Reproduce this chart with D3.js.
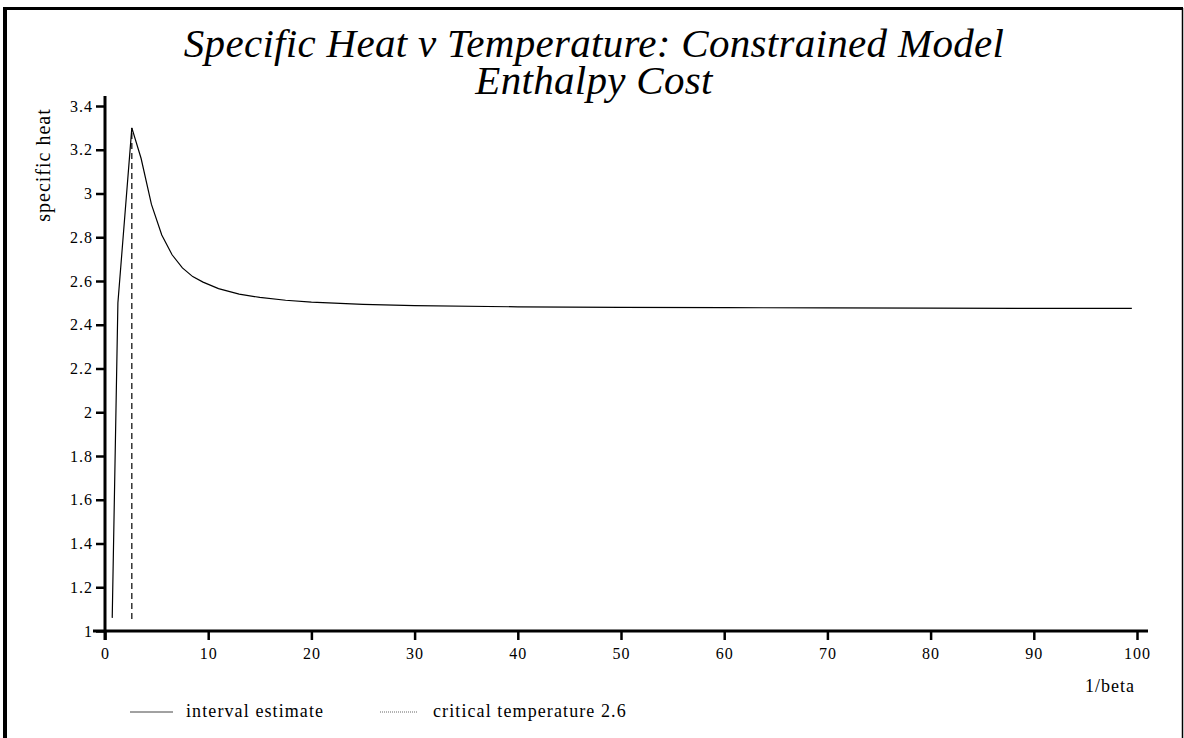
<!DOCTYPE html>
<html>
<head>
<meta charset="utf-8">
<script src="https://cdn.jsdelivr.net/npm/d3@7"></script>
<style>
  body { margin: 0; background: #fff; }
</style>
</head>
<body>
<div id="chart"></div>
<script>
// 1/beta values and the specific heat estimate
const invBeta = [0.7, 1.25, 2.6, 3.5, 4.5, 5.5, 6.5, 7.5, 8.5, 9.5, 11, 13, 15, 17.5, 20, 25, 30, 40, 50, 60, 70, 80, 90, 99.5];
const specHeat = [1.06, 2.5, 3.30, 3.16, 2.95, 2.81, 2.72, 2.66, 2.62, 2.595, 2.565, 2.54, 2.525, 2.512, 2.503, 2.493, 2.487, 2.482, 2.479, 2.478, 2.477, 2.476, 2.475, 2.475];

// critical temperature marker
const critTemp = 2.6;
const critRange = [1.055, 3.30];

const xTicks = [0, 10, 20, 30, 40, 50, 60, 70, 80, 90, 100];
const yTicks = [1, 1.2, 1.4, 1.6, 1.8, 2, 2.2, 2.4, 2.6, 2.8, 3, 3.2, 3.4];

const titleLines = ["Specific Heat v Temperature: Constrained Model", "Enthalpy Cost"];
const legendItems = ["interval estimate", "critical temperature 2.6"];

const width = 1184, height = 738;
const serif = "Liberation Serif";

const svg = d3.select("#chart").append("svg")
    .attr("width", width)
    .attr("height", height)
    .attr("font-family", serif);

// outer frame (open at the bottom, thick on the left/top)
svg.append("line").attr("x1", 5).attr("x2", 5).attr("y1", 7).attr("y2", height)
    .attr("stroke", "#000").attr("stroke-width", 4);
svg.append("line").attr("x1", 3).attr("x2", 1183).attr("y1", 8.5).attr("y2", 8.5)
    .attr("stroke", "#000").attr("stroke-width", 3);
svg.append("line").attr("x1", 1182.5).attr("x2", 1182.5).attr("y1", 8).attr("y2", height)
    .attr("stroke", "#000").attr("stroke-width", 1.5);

// scales
let x = d3.scaleLinear().domain([0, 100]).range([105, 1137]);
let y = d3.scaleLinear().domain([1, 3.4]).range([631, 106]);

// title
svg.selectAll("text.title").data(titleLines).enter()
    .append("text")
    .attr("class", "title")
    .attr("x", 594)
    .attr("y", (d, i) => 57 + i * 37)
    .attr("text-anchor", "middle")
    .attr("font-family", serif)
    .attr("font-style", "italic")
    .attr("font-size", 41)
    .attr("letter-spacing", 0.3)
    .text(d => d);

// axes
let yAxis = svg.append("g")
    .attr("transform", "translate(" + x(0) + ",0)")
    .call(d3.axisLeft(y).tickValues(yTicks).tickSize(9).tickSizeOuter(0).tickPadding(3)
        .tickFormat(d => String(+d.toFixed(1))));
let xAxis = svg.append("g")
    .attr("transform", "translate(0," + y(1) + ")")
    .call(d3.axisBottom(x).tickValues(xTicks).tickSize(9).tickSizeOuter(0).tickPadding(8)
        .tickFormat(d3.format("d")));

[yAxis, xAxis].forEach(a => {
    a.attr("font-family", serif).attr("font-size", 16);
    a.select(".domain").remove();
    a.selectAll(".tick line").attr("stroke", "#000").attr("stroke-width", 2.5);
    a.selectAll(".tick text").attr("fill", "#000").attr("letter-spacing", 1);
});

// axis lines, a bit past the ends like the original
svg.append("line")
    .attr("x1", x(0)).attr("x2", x(0))
    .attr("y1", y(3.4) - 10).attr("y2", y(1) + 9)
    .attr("stroke", "#000").attr("stroke-width", 3);
svg.append("line")
    .attr("x1", x(0) - 12).attr("x2", x(100) + 11)
    .attr("y1", y(1)).attr("y2", y(1))
    .attr("stroke", "#000").attr("stroke-width", 3);

// axis titles
svg.append("text")
    .attr("transform", "translate(50," + 165 + ") rotate(-90)")
    .attr("text-anchor", "middle")
    .attr("font-size", 20)
    .attr("letter-spacing", 1)
    .text("specific heat");
svg.append("text")
    .attr("x", 1135)
    .attr("y", 692)
    .attr("text-anchor", "end")
    .attr("font-size", 18)
    .attr("letter-spacing", 1)
    .text("1/beta");

// critical temperature (dashed)
svg.append("line")
    .attr("x1", x(critTemp)).attr("x2", x(critTemp))
    .attr("y1", y(critRange[0])).attr("y2", y(critRange[1]))
    .attr("stroke", "#000").attr("stroke-width", 1.2)
    .attr("stroke-dasharray", "6,4");

// specific heat curve
let line = d3.line()
    .x(d => x(d[0]))
    .y(d => y(d[1]));
svg.append("path")
    .datum(invBeta.map((v, i) => [v, specHeat[i]]))
    .attr("d", line)
    .attr("fill", "none")
    .attr("stroke", "#000")
    .attr("stroke-width", 1.2);

// legend
const legendX = [130, 380];
let legend = svg.selectAll("g.legend").data(legendItems).enter()
    .append("g")
    .attr("class", "legend")
    .attr("transform", (d, i) => "translate(" + legendX[i] + ",712)");
legend.append("line")
    .attr("x1", 0).attr("x2", (d, i) => i == 0 ? 43 : 38)
    .attr("y1", 0).attr("y2", 0)
    .attr("stroke", (d, i) => i == 0 ? "#444" : "#666")
    .attr("stroke-width", 1)
    .attr("stroke-dasharray", (d, i) => i == 0 ? null : "1,1");
legend.append("text")
    .attr("x", (d, i) => i == 0 ? 56 : 53)
    .attr("y", 5)
    .attr("font-size", 18)
    .attr("letter-spacing", 1.1)
    .text(d => d);
</script>
</body>
</html>
